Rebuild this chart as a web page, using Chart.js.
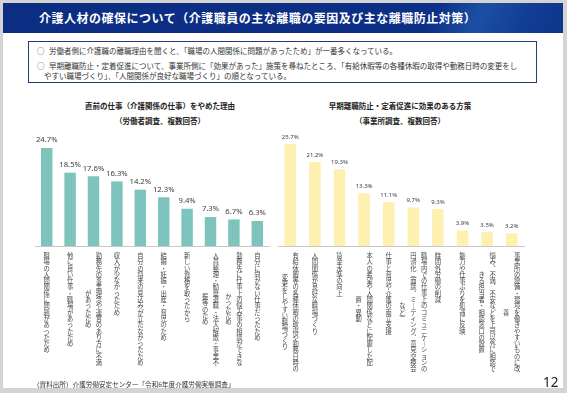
<!DOCTYPE html>
<html><head><meta charset="utf-8">
<script src="https://cdn.jsdelivr.net/npm/chart.js@4.4.1/dist/chart.umd.min.js"></script>
<style>
html,body{margin:0;padding:0;width:567px;height:393px;overflow:hidden;background:#d4d4d4;font-family:"Noto Sans CJK JP","Noto Sans",sans-serif;}
.abs{position:absolute;white-space:nowrap;}
#page{position:absolute;left:3px;top:3px;width:560px;height:385px;background:#fff;}
#bar{position:absolute;left:3px;top:3px;width:560px;height:30px;
 background:linear-gradient(112deg,#0b2d82 0%,#0c2f86 76%,#1c4fa4 84%,#123f95 92%,#0d3589 100%);}
#title{left:39px;top:10px;font-size:12px;line-height:16px;font-weight:bold;color:#fff;letter-spacing:0.5px;}
#box{position:absolute;left:28px;top:41px;width:509px;height:42px;border:1.5px solid #253b7d;box-sizing:border-box;}
.bl{font-size:7.5px;line-height:10px;color:#333;}
.ct{font-size:7.5px;line-height:10px;font-weight:bold;color:#222;text-align:center;width:250px;}
canvas{position:absolute;}
</style></head><body>
<div id="page"></div>
<div id="bar"></div>
<div id="title" class="abs">介護人材の確保について（介護職員の主な離職の要因及び主な離職防止対策）</div>
<div id="box"></div>
<div class="abs bl" style="left:37px;top:46px;">○</div>
<div class="abs bl" style="left:49px;top:46px;">労働者側に介護職の離職理由を聞くと、「職場の人間関係に問題があったため」が一番多くなっている。</div>
<div class="abs bl" style="left:37px;top:61px;">○</div>
<div class="abs bl" style="left:49px;top:61px;">早期離職防止・定着促進について、事業所側に「効果があった」施策を尋ねたところ、「有給休暇等の各種休暇の取得や勤務日時の変更をし</div>
<div class="abs bl" style="left:44px;top:71px;">やすい職場づくり」、「人間関係が良好な職場づくり」の順となっている。</div>

<div class="abs ct" style="left:35px;top:101px;">直前の仕事（介護関係の仕事）をやめた理由</div>
<div class="abs ct" style="left:35px;top:116px;">（労働者調査、複数回答）</div>
<div class="abs ct" style="left:275px;top:101px;">早期離職防止・定着促進に効果のある方策</div>
<div class="abs ct" style="left:275px;top:116px;">（事業所調査、複数回答）</div>

<canvas id="leftChart" width="254" height="260" style="left:25px;top:125px;"></canvas>
<canvas id="rightChart" width="266" height="260" style="left:268px;top:125px;"></canvas>

<div class="abs" style="left:33px;top:379px;font-size:6.6px;line-height:10px;color:#333;">（資料出所）介護労働安定センター「令和6年度介護労働実態調査」</div>
<div class="abs" style="left:543px;top:373px;font-family:'Noto Sans';font-size:13.5px;line-height:18px;color:#222;">12</div>

<script>
// ---- data ----
const leftCategories = [
  ["職場の人間関係に問題があったため"],
  ["他に良い仕事・職場があったため"],
  ["勤務先の事業理念や運営のあり方に不満", "があったため"],
  ["収入が少なかったため"],
  ["自分の将来の見込みが立たなかったため"],
  ["結婚・妊娠・出産・育児のため"],
  ["新しい資格を取ったから"],
  ["人員整理・勧奨退職・法人解散・事業不", "振等のため"],
  ["勤務先に仕事上の悩み事の相談ができな", "かったため"],
  ["自分に向かない仕事だったため"]
];
const leftValues = [24.7, 18.5, 17.6, 16.3, 14.2, 12.3, 9.4, 7.3, 6.7, 6.3];

const rightCategories = [
  ["有給休暇等の各種休暇の取得や勤務日時の", "変更をしやすい職場づくり"],
  ["人間関係が良好な職場づくり"],
  ["賃金水準の向上"],
  ["本人の希望や人間関係などに配慮した配", "置・異動"],
  ["仕事と育児や介護の両立支援"],
  ["職場内での仕事上のコミュニケーションの", "円滑化(面談、ミーティング、意見交換会", "など)"],
  ["時間外労働の削減"],
  ["能力や仕事ぶりを処遇に反映"],
  ["悩み、不満、不安などを上司以外に相談で", "きる担当者・相談窓口の設置"],
  ["事業所の設備・環境を働きやすいものに改", "善"]
];
const rightValues = [25.7, 21.2, 19.3, 13.3, 11.1, 9.7, 9.3, 3.9, 3.5, 3.2];

// ---- vertical (tategaki) label rows: columns right-to-left, centred vertically ----
const VFORM = {"、":"︑","ー":"｜","(":"︵",")":"︶"};
function toVertical(cols) {
  const chars = cols.map(c => Array.from(c).map(ch => VFORM[ch] || ch));
  const maxLen = Math.max(...chars.map(c => c.length));
  const nRows = maxLen * 2;           // half-row grid
  const rows = [];
  for (let r = 0; r < nRows; r++) {
    const parts = [];
    for (let k = chars.length - 1; k >= 0; k--) {
      const off = maxLen - chars[k].length; // in half rows
      const rr = r - off;
      let ch = "\u3000";
      if (rr >= 0 && rr % 2 === 0 && rr / 2 < chars[k].length) ch = chars[k][rr / 2];
      parts.push(ch);
    }
    rows.push(parts.join("\u2002 "));
  }
  return rows;
}

const valueLabels = {
  id: 'valueLabels',
  afterDatasetsDraw(chart, args, opts) {
    const ctx = chart.ctx;
    const meta = chart.getDatasetMeta(0);
    const data = chart.data.datasets[0].data;
    ctx.save();
    ctx.font = opts.font;
    ctx.fillStyle = opts.color;
    ctx.textAlign = 'center';
    ctx.textBaseline = 'bottom';
    meta.data.forEach((bar, i) => {
      ctx.fillText(data[i].toFixed(1) + '%', bar.x, bar.y - opts.offset);
    });
    ctx.restore();
  }
};

function makeChart(id, cats, vals, color, barPct, labelFont) {
  return new Chart(document.getElementById(id), {
    type: 'bar',
    data: {
      labels: cats.map(toVertical),
      datasets: [{ data: vals, backgroundColor: color, borderWidth: 0,
                   categoryPercentage: 1, barPercentage: barPct }]
    },
    options: {
      responsive: false,
      animation: false,
      devicePixelRatio: 1,
      layout: { padding: { left: 10, right: 10, top: 10, bottom: 0 } },
      plugins: {
        legend: { display: false },
        tooltip: { enabled: false },
        valueLabels: { font: labelFont, color: '#404040', offset: 4 }
      },
      scales: {
        y: { display: false, min: 0, max: 28 },
        x: {
          grid: { display: false, drawTicks: false },
          border: { display: true, color: '#c8c8c8', width: 1 },
          afterFit: s => { s.height = 139; },
          ticks: {
            autoSkip: false, maxRotation: 0, minRotation: 0, padding: 8,
            color: '#474747',
            font: { family: '"Noto Sans CJK JP"', size: 6.3, lineHeight: 0.5 }
          }
        }
      }
    },
    plugins: [valueLabels]
  });
}

makeChart('leftChart', leftCategories, leftValues, '#7ec4bd', 0.49, '7.7px "Noto Sans"');
makeChart('rightChart', rightCategories, rightValues, '#fdf0b0', 0.47, '6px "Noto Sans"');
</script>
</body></html>
